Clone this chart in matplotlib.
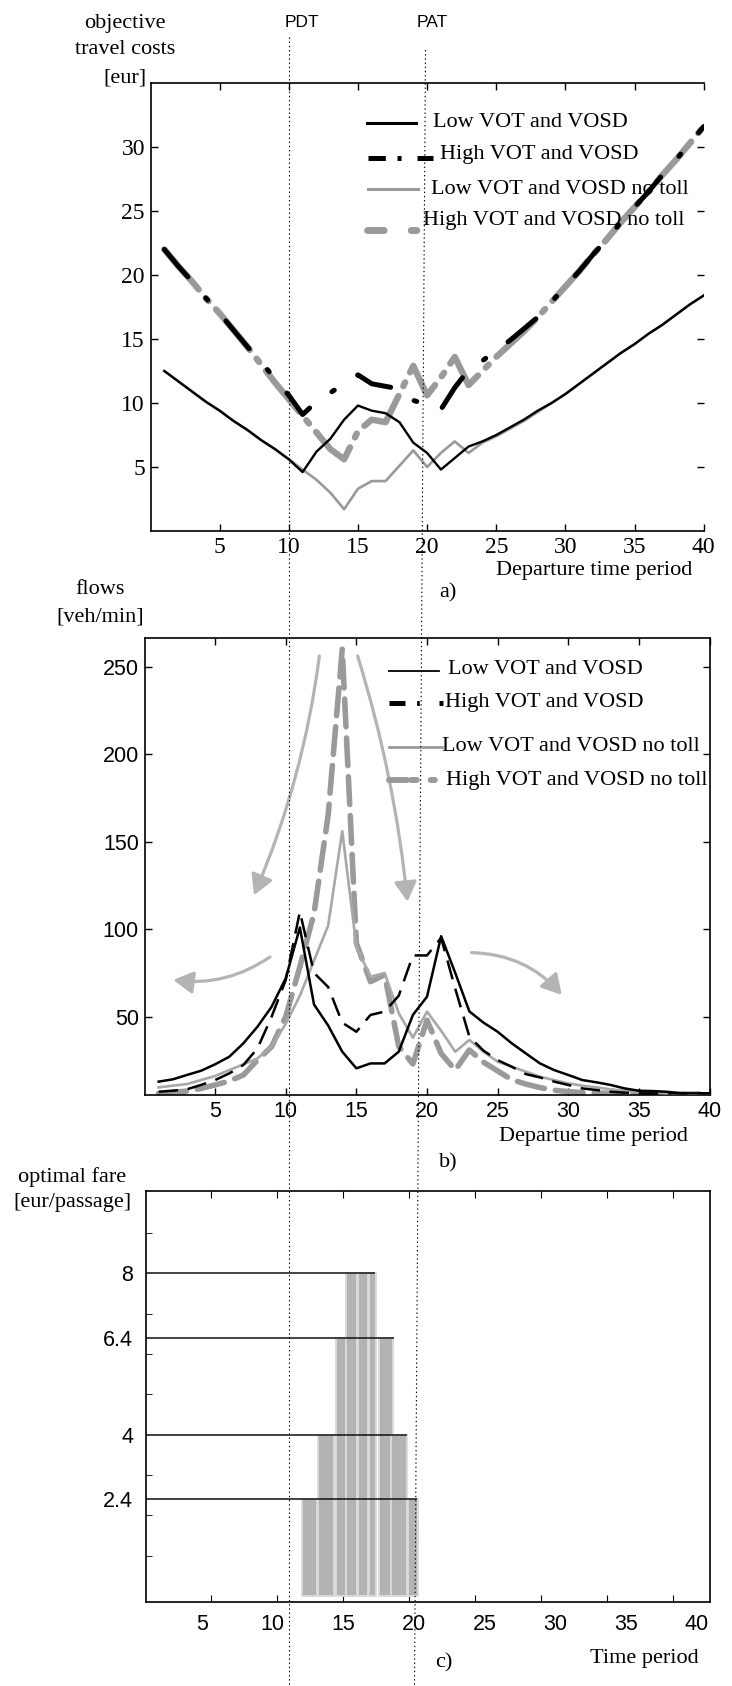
import matplotlib
matplotlib.use('Agg')
import matplotlib.pyplot as plt
from matplotlib.lines import Line2D

W, H = 732, 1686
SERIF = ['Liberation Serif', 'DejaVu Serif']
SANS = ['Liberation Sans', 'DejaVu Sans']
plt.rcParams['lines.scale_dashes'] = False

# ---------------- data ----------------
periods = list(range(1, 41))

# a) objective travel costs [eur]
cost_low = [12.5, 11.7, 10.9, 10.1, 9.4, 8.6, 7.9, 7.1, 6.4, 5.6,
            4.6, 6.2, 7.2, 8.7, 9.8, 9.4, 9.2, 8.5, 6.9, 6.1,
            4.8, 5.7, 6.6, 7.0, 7.5, 8.1, 8.7, 9.4, 10.0, 10.7,
            11.5, 12.3, 13.1, 13.9, 14.6, 15.4, 16.1, 16.9, 17.7, 18.4]
cost_high = [22.0, 20.7, 19.5, 18.2, 17.0, 15.7, 14.4, 13.2, 11.9, 10.6,
             9.1, 10.1, 10.8, 11.5, 12.2, 11.5, 11.3, 11.1, 10.2, 9.9,
             9.5, 11.2, 12.6, 13.3, 14.1, 14.9, 15.8, 16.7, 17.9, 19.1,
             20.3, 21.6, 22.8, 24.1, 25.3, 26.5, 27.8, 29.0, 30.3, 31.6]
cost_low_notoll = [12.5, 11.7, 10.9, 10.1, 9.4, 8.6, 7.9, 7.1, 6.4, 5.6,
                   4.8, 4.0, 3.0, 1.7, 3.3, 3.9, 3.9, 5.1, 6.3, 5.0,
                   6.1, 7.0, 6.1, 6.9, 7.4, 8.0, 8.6, 9.3, 10.0, 10.7,
                   11.5, 12.3, 13.1, 13.9, 14.6, 15.4, 16.1, 16.9, 17.7, 18.4]
cost_high_notoll = [22.0, 20.7, 19.5, 18.2, 17.0, 15.7, 14.4, 13.0, 11.6, 10.3,
                    9.0, 7.7, 6.4, 5.6, 7.8, 8.7, 8.5, 10.7, 12.9, 10.6,
                    12.0, 13.6, 11.4, 12.5, 13.6, 14.6, 15.6, 16.7, 17.9, 19.1,
                    20.3, 21.6, 22.8, 24.1, 25.3, 26.5, 27.8, 29.0, 30.3, 31.6]

# b) flows [veh/min]
flow_low = [12.9, 14.2, 16.7, 19.1, 22.8, 27.1, 34.8, 44.3, 55.7, 72.0,
            101.0, 57.0, 45.0, 30.0, 20.5, 23.3, 23.3, 30.0, 51.0, 61.4,
            96.0, 75.0, 53.0, 46.6, 41.4, 34.8, 29.0, 23.3, 19.5, 16.7,
            13.8, 12.5, 11.0, 9.0, 7.7, 7.5, 7.1, 6.2, 6.2, 6.2]
flow_high = [7.1, 7.7, 8.5, 11.0, 13.8, 17.6, 22.4, 31.9, 50.0, 71.0,
             110.0, 75.0, 67.0, 46.6, 41.4, 51.0, 52.9, 62.0, 85.0, 85.0,
             95.0, 66.0, 38.6, 30.6, 25.2, 21.4, 17.2, 15.3, 12.9, 11.0,
             9.0, 8.1, 7.1, 6.6, 6.2, 6.2, 6.2, 6.2, 6.2, 6.2]
flow_low_notoll = [9.6, 10.6, 11.5, 13.8, 16.1, 19.5, 22.8, 26.2, 32.9, 46.0,
                   62.0, 82.0, 102.0, 156.0, 90.0, 72.8, 75.0, 52.0, 38.0, 52.9,
                   42.0, 30.0, 36.7, 30.0, 24.3, 21.4, 18.6, 15.7, 13.8, 11.9,
                   10.6, 9.6, 8.5, 7.7, 6.9, 6.6, 6.2, 6.0, 6.0, 6.0]
flow_high_notoll = [6.2, 6.8, 7.5, 9.0, 11.0, 13.2, 16.7, 25.2, 32.9, 50.0,
                    78.6, 109.0, 165.0, 260.0, 92.0, 70.0, 74.0, 33.0, 23.0, 48.0,
                    29.0, 19.5, 31.0, 24.0, 19.0, 14.0, 11.5, 9.5, 8.0, 7.2,
                    6.6, 6.4, 6.2, 6.0, 6.0, 5.8, 5.8, 5.8, 5.8, 5.8]

# c) optimal fare [eur/passage]
fare_center = [12.43, 13.68, 14.81, 15.62, 16.48, 17.19, 18.2, 19.19, 20.24]
fare_width = [1.09, 1.25, 0.76, 0.86, 0.71, 0.55, 1.06, 1.21, 0.76]
fare_value = [2.4, 4.0, 6.4, 8.0, 8.0, 8.0, 6.4, 4.0, 2.4]
fare_levels = [8.0, 6.4, 4.0, 2.4]
fare_level_end = [17.4, 18.8, 19.8, 20.6]
fare_level_labels = ['8', '6.4', '4', '2.4']

xticks_a = [5, 10, 15, 20, 25, 30, 35, 40]
yticks_a = [5, 10, 15, 20, 25, 30]
yticks_b = [50, 100, 150, 200, 250]

legend_labels = ['Low VOT and VOSD', 'High VOT and VOSD',
                 'Low VOT and VOSD no toll', 'High VOT and VOSD no toll']

BLACK = '#000000'
GRAY = '#9a9a9a'
LGRAY = '#a8a8a8'
ARROW = '#b4b4b4'


def rect(l, t, r, b):
    return [l / W, 1 - b / H, (r - l) / W, (b - t) / H]


def fx(px):
    return px / W


def fy(py):
    return 1 - py / H


fig = plt.figure(figsize=(W / 100, H / 100), dpi=100)
fig.patch.set_facecolor('white')


def fline(x0, x1, y, **kw):
    fig.add_artist(Line2D([fx(x0), fx(x1)], [fy(y), fy(y)],
                          transform=fig.transFigure, **kw))


def ftext(x, y, s, ha='center', family=SERIF, size=16, **kw):
    fig.text(fx(x), fy(y), s, ha=ha, va='center', family=family,
             fontsize=size, **kw)


# ---------------- panel a ----------------
ax1 = fig.add_axes(rect(150.5, 83, 703.7, 531))
ax1.set_xlim(0, 40)
ax1.set_ylim(0, 35)
ax1.plot(periods, cost_high_notoll, color=GRAY, lw=4.6,
         dashes=(38, 8, 3, 8), dash_capstyle='round', zorder=2)
ax1.plot(periods, cost_high, color=BLACK, lw=3.6,
         dashes=(26, 20, 2, 20), dash_capstyle='round', zorder=3)
ax1.plot(periods, cost_low_notoll, color=GRAY, lw=1.9, zorder=4)
ax1.plot(periods, cost_low, color=BLACK, lw=1.7, zorder=5)
ax1.set_xticks(xticks_a)
ax1.set_yticks(yticks_a)
ax1.tick_params(direction='in', top=True, right=True, length=5, width=1,
                labelsize=17, pad=4)
for lab in ax1.get_xticklabels() + ax1.get_yticklabels():
    lab.set_family(SERIF)
ax1.spines['right'].set_visible(False)
for s in ax1.spines.values():
    s.set_linewidth(1.2)

# legend a
fline(367, 416, 122.7, color=BLACK, lw=2.2)
fline(367.7, 433.3, 157.7, color=BLACK, lw=3.6, dashes=(12.5, 8.4, 2.9, 11.5),
      dash_capstyle='butt')
fline(367.7, 417.7, 189.3, color=GRAY, lw=2.2)
fline(366.7, 418.7, 230, color=GRAY, lw=5, dashes=(12, 19.5, 4, 20),
      dash_capstyle='round')
ftext(433, 122.7, legend_labels[0], ha='left')
ftext(440, 155, legend_labels[1], ha='left')
ftext(430.8, 190, legend_labels[2], ha='left')
ftext(423, 220, legend_labels[3], ha='left')

ftext(124.8, 23.3, 'objective')
ftext(124.8, 50, 'travel costs')
ftext(124.6, 78.3, '[eur]')
ftext(593.8, 570, 'Departure time period')
ftext(448, 593, 'a)')

# ---------------- panel b ----------------
ax2 = fig.add_axes(rect(144.5, 638.3, 709.5, 1095))
ax2.set_xlim(0, 40)
ax2.set_ylim(5.26, 266.2)

arrow_kw = dict(arrowstyle='-|>,head_length=0.6,head_width=0.34',
                color=ARROW, lw=2.3, mutation_scale=20, shrinkA=0, shrinkB=0)
ax2.annotate('', xy=(7.75, 119.5), xytext=(12.38, 256.1),
             arrowprops=dict(connectionstyle='arc3,rad=-0.07', **arrow_kw),
             zorder=1)
ax2.annotate('', xy=(18.62, 115.7), xytext=(15.09, 256.1),
             arrowprops=dict(connectionstyle='arc3,rad=-0.05', **arrow_kw),
             zorder=1)
ax2.annotate('', xy=(2.04, 71.0), xytext=(8.88, 84.1),
             arrowprops=dict(connectionstyle='arc3,rad=-0.19', **arrow_kw),
             zorder=1)
ax2.annotate('', xy=(29.54, 62.4), xytext=(23.16, 86.6),
             arrowprops=dict(connectionstyle='arc3,rad=-0.22', **arrow_kw),
             zorder=1)

ax2.plot(periods, flow_high_notoll, color=GRAY, lw=4.0,
         dashes=(20, 8), dash_capstyle='round', zorder=2)
ax2.plot(periods, flow_low_notoll, color=LGRAY, lw=1.9, zorder=3)
ax2.plot(periods, flow_high, color=BLACK, lw=1.8, dashes=(14, 7), zorder=4)
ax2.plot(periods, flow_low, color=BLACK, lw=1.8, zorder=5)
ax2.set_xticks(xticks_a)
ax2.set_yticks(yticks_b)
ax2.tick_params(direction='in', top=True, right=True, length=5, width=1,
                labelsize=15.5, pad=4)
for lab in ax2.get_xticklabels() + ax2.get_yticklabels():
    lab.set_family(SANS)
for s in ax2.spines.values():
    s.set_linewidth(1.2)

# legend b
fline(389.3, 439.3, 671, color=BLACK, lw=1.3)
fline(389, 442.7, 702.7, color=BLACK, lw=3.6, dashes=(11.5, 8.4, 1.9, 14.2),
      dash_capstyle='butt')
fline(389, 441.7, 746.7, color=GRAY, lw=2.0)
fline(389, 440, 780, color=GRAY, lw=4.3, dashes=(13, 3, 4, 10, 3, 20),
      dash_capstyle='round')
ftext(448.3, 670, legend_labels[0], ha='left')
ftext(445, 702.7, legend_labels[1], ha='left')
ftext(441.7, 747, legend_labels[2], ha='left')
ftext(446, 780, legend_labels[3], ha='left')

ftext(99.7, 590, 'flows')
ftext(99.7, 616.7, '[veh/min]')
ftext(593.5, 1136.7, 'Departue time period')
ftext(448.5, 1163, 'b)')

# ---------------- panel c ----------------
ax3 = fig.add_axes(rect(145.5, 1191, 710.3, 1602))
ax3.set_xlim(0, 42.79)
ax3.set_ylim(-0.15, 10.04)
ax3.bar(fare_center, fare_value, width=fare_width, color='#b3b3b3',
        edgecolor='#dadada', linewidth=1.4, zorder=2)
ax3.hlines(fare_levels, 0, fare_level_end, color='#111111', lw=1.1, zorder=3)
ax3.set_xticks(xticks_a)
ax3.set_yticks(fare_levels)
ax3.set_yticklabels(fare_level_labels)
ax3.set_yticks(list(range(1, 10)), minor=True)
ax3.tick_params(axis='x', direction='in', top=True, bottom=True, length=5,
                labelbottom=False)
ax3.tick_params(axis='y', which='major', length=0, pad=9, labelsize=15.5)
ax3.tick_params(axis='y', which='minor', direction='in', length=4,
                right=False)
for lab in ax3.get_yticklabels():
    lab.set_family(SANS)
for s in ax3.spines.values():
    s.set_linewidth(1.2)

sec = ax3.secondary_xaxis('bottom',
                          functions=(lambda x: (13.2 * x + 14.5) / 14.15,
                                     lambda u: (14.15 * u - 14.5) / 13.2))
sec.set_xticks(xticks_a)
sec.tick_params(length=0, pad=9, labelsize=15.5)
sec.spines['bottom'].set_visible(False)
for lab in sec.get_xticklabels():
    lab.set_family(SANS)

ftext(72.2, 1176.7, 'optimal fare')
ftext(72.4, 1203, '[eur/passage]')
ftext(644, 1658, 'Time period')
ftext(443.4, 1663.3, 'c)')

# ---------------- PDT / PAT markers ----------------
fig.add_artist(Line2D([fx(289), fx(289)], [fy(37), fy(1686)],
                      transform=fig.transFigure, color='k', lw=0.8,
                      ls=(0, (1, 2))))
fig.add_artist(Line2D([fx(425.5), fx(414.5)], [fy(50), fy(1686)],
                      transform=fig.transFigure, color='k', lw=0.8,
                      ls=(0, (1, 2))))
ftext(302, 22.7, 'PDT', family=SANS, size=12.5)
ftext(432, 22.7, 'PAT', family=SANS, size=12.5)

fig.savefig('out.png', dpi=100, facecolor='white')
